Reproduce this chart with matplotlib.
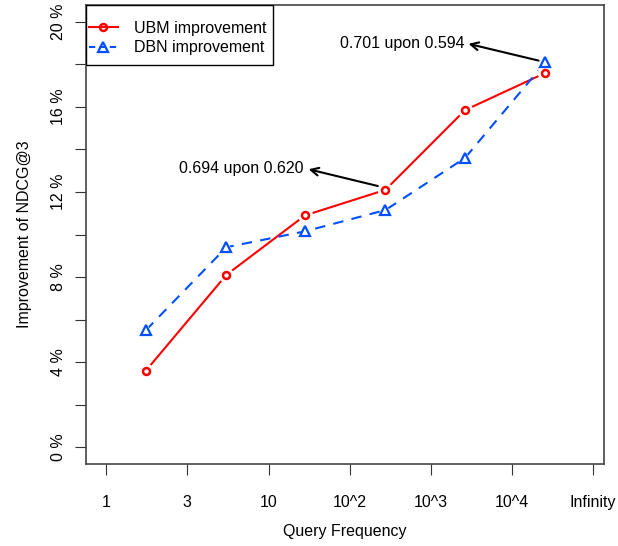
import numpy as np
import matplotlib.pyplot as plt
from matplotlib.lines import Line2D
from matplotlib.patches import Rectangle

plt.rcParams['font.family'] = ['Liberation Sans', 'DejaVu Sans']

# data
x_labels = ['1', '3', '10', '10^2', '10^3', '10^4', 'Infinity']
x_pos = [0.49, 1.48, 2.45, 3.44, 4.42, 5.41]
ubm = [3.6, 8.1, 10.9, 12.1, 15.85, 17.6]
dbn = [5.5, 9.4, 10.15, 11.15, 13.6, 18.1]

fig = plt.figure(figsize=(6.18, 5.46), dpi=100)
ax = fig.add_axes([0.139, 0.150, 0.838, 0.841])

red = '#FF0000'
blue = '#0050FF'
fs = 11.5

ax.plot(x_pos, ubm, color=red, lw=1.5, zorder=2)
ax.plot(x_pos, dbn, color=blue, lw=1.5, ls=(0, (5, 4)), zorder=2)
# R type="b" leaves a gap around each point
ax.plot(x_pos, ubm, ls='none', marker='o', ms=11, mfc='white', mec='none', zorder=3)
ax.plot(x_pos, dbn, ls='none', marker='^', ms=12, mfc='white', mec='none', zorder=3)
ax.plot(x_pos, ubm, ls='none', marker='o', ms=5, mfc='none', mec=red, mew=1.8, zorder=4)
ax.plot(x_pos, dbn, ls='none', marker='^', ms=7, mfc='none', mec=blue, mew=1.6, zorder=4)

# legend: entries without frame, box drawn separately (R style padding)
handles = [Line2D([], [], color=red, lw=1.5, marker='o', ms=5, mfc='none', mew=1.8),
           Line2D([], [], color=blue, lw=1.5, ls=(0, (3, 2)), marker='^', ms=7, mfc='none', mew=1.6)]
leg = ax.legend(handles, ['UBM improvement', 'DBN improvement'], loc='upper left',
                bbox_to_anchor=(0.006, 0.966), fontsize=fs, frameon=False, borderaxespad=0,
                borderpad=0, handlelength=1.8, handletextpad=1.0, labelspacing=0.3)
ax.add_patch(Rectangle((0, 0.869), 0.361, 0.131, transform=ax.transAxes,
                       facecolor='white', edgecolor='black', lw=1.0, zorder=5))
leg.set_zorder(6)

ax.text(2.43, 13.1, '0.694 upon 0.620', ha='right', va='center', fontsize=fs)
ax.annotate('', xy=(2.46, 13.1), xytext=(3.38, 12.25),
            arrowprops=dict(arrowstyle='->', color='black', lw=1.5, mutation_scale=14))
ax.text(4.41, 19.0, '0.701 upon 0.594', ha='right', va='center', fontsize=fs)
ax.annotate('', xy=(4.43, 19.0), xytext=(5.36, 18.15),
            arrowprops=dict(arrowstyle='->', color='black', lw=1.5, mutation_scale=14))

ax.set_xlim(-0.25, 6.13)
ax.set_ylim(-0.8, 20.8)
ax.set_xticks(range(len(x_labels)))
ax.set_xticklabels(x_labels, fontsize=fs)
yt = np.arange(0, 21, 2)
ax.set_yticks(yt)
ax.set_yticklabels([f'{v} %' if v % 4 == 0 else '' for v in yt], fontsize=fs,
                   rotation=90, va='center')
ax.tick_params(axis='x', length=8, pad=14, color='#333333')
ax.tick_params(axis='y', length=8, pad=6, color='#333333')
for s in ax.spines.values():
    s.set_color('#444444')
    s.set_linewidth(1.2)

ax.set_xlabel('Query Frequency', fontsize=fs, labelpad=10)
ax.set_ylabel('Improvement of NDCG@3', fontsize=fs, labelpad=14)

fig.savefig('out.png', dpi=100)
